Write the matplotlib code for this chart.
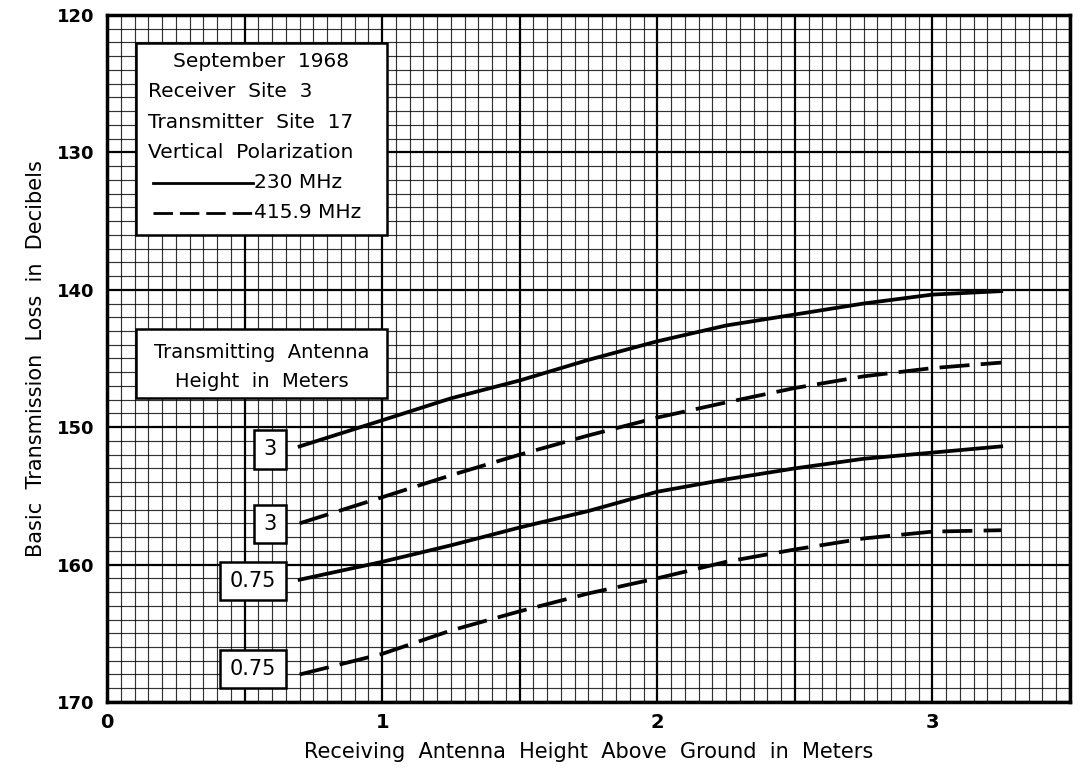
import numpy as np
import matplotlib
matplotlib.use('Agg')
import matplotlib.pyplot as plt
from matplotlib.patches import Rectangle

# Altura da antena receptora (m)
altura_rx = [0.7, 1.0, 1.25, 1.5, 1.75, 2.0, 2.25, 2.5, 2.75, 3.0, 3.25]

# Perda basica de transmissao (dB)
perda_230_3m = [151.4, 149.5, 147.9, 146.6, 145.1, 143.75, 142.6, 141.8, 141.0, 140.35, 140.1]
perda_416_3m = [157.0, 155.1, 153.5, 152.0, 150.6, 149.3, 148.2, 147.15, 146.3, 145.7, 145.3]
perda_230_075m = [161.1, 159.8, 158.6, 157.3, 156.1, 154.7, 153.8, 153.0, 152.3, 151.85, 151.4]
perda_416_075m = [168.0, 166.5, 164.8, 163.4, 162.1, 161.0, 159.8, 158.9, 158.1, 157.6, 157.5]

rotulos_altura_tx = ['3', '3', '0.75', '0.75']
pos_rotulos = [151.6, 157.05, 161.2, 167.6]

legenda_linhas = ['September  1968', 'Receiver  Site  3', 'Transmitter  Site  17', 'Vertical  Polarization']
freqs = ['230 MHz', '415.9 MHz']

x_ticks = [0, 1, 2, 3]
y_ticks = [120, 130, 140, 150, 160, 170]

plt.rcParams['font.family'] = ['DejaVu Sans']

fig = plt.figure(figsize=(10.8, 7.76), dpi=100)
ax = fig.add_axes([0.0991, 0.0954, 0.8916, 0.8853])
ax.set_xlim(0, 3.5)
ax.set_ylim(170, 120)

# Grade de papel milimetrado
for xv in np.arange(0, 3.5001, 0.05):
    grosso = abs(xv / 0.5 - round(xv / 0.5)) < 1e-6
    ax.axvline(xv, color='black', lw=1.6 if grosso else 0.85, alpha=1.0 if grosso else 0.8, zorder=1)
for yv in np.arange(120, 170.001, 1):
    grosso = abs(yv % 10) < 1e-6
    ax.axhline(yv, color='black', lw=1.6 if grosso else 0.85, alpha=1.0 if grosso else 0.8, zorder=1)

for s in ax.spines.values():
    s.set_linewidth(2.5)
    s.set_zorder(5)

# Curvas
ax.plot(altura_rx, perda_230_3m, color='black', lw=2.7, zorder=4)
ax.plot(altura_rx, perda_416_3m, color='black', lw=2.7, dashes=(8, 3), zorder=4)
ax.plot(altura_rx, perda_230_075m, color='black', lw=2.7, zorder=4)
ax.plot(altura_rx, perda_416_075m, color='black', lw=2.7, dashes=(8, 3), zorder=4)

# Rotulos de altura da antena transmissora
for rot, yv in zip(rotulos_altura_tx, pos_rotulos):
    ax.text(0.615, yv, rot, ha='right', va='center', fontsize=15, zorder=6,
            bbox=dict(boxstyle='square,pad=0.45', fc='white', ec='black', lw=1.8))

# Caixa de legenda
ax.add_patch(Rectangle((0.105, 122.04), 0.913, 13.96, fc='white', ec='black', lw=1.8, zorder=6))
ax.text(0.56, 123.42, legenda_linhas[0], ha='center', va='center', fontsize=14.5, zorder=7)
for i, linha in enumerate(legenda_linhas[1:]):
    ax.text(0.15, 125.6 + i * 2.2, linha, ha='left', va='center', fontsize=14.5, zorder=7)
ax.plot([0.167, 0.531], [132.2, 132.2], color='black', lw=2.0, zorder=7)
ax.plot([0.167, 0.531], [134.4, 134.4], color='black', lw=2.0, dashes=(7, 2.5), zorder=7)
ax.text(0.535, 132.2, freqs[0], ha='left', va='center', fontsize=14.5, zorder=7)
ax.text(0.535, 134.4, freqs[1], ha='left', va='center', fontsize=14.5, zorder=7)

# Caixa do titulo dos rotulos
ax.add_patch(Rectangle((0.105, 142.85), 0.913, 5.02, fc='white', ec='black', lw=1.8, zorder=6))
ax.text(0.562, 144.53, 'Transmitting  Antenna', ha='center', va='center', fontsize=14, zorder=7)
ax.text(0.562, 146.64, 'Height  in  Meters', ha='center', va='center', fontsize=14, zorder=7)

ax.set_xticks(x_ticks)
ax.set_yticks(y_ticks)
ax.set_xticklabels([str(v) for v in x_ticks], fontsize=14, fontweight='bold')
ax.set_yticklabels([str(v) for v in y_ticks], fontsize=13, fontweight='bold')
ax.tick_params(axis='x', length=0, pad=8)
ax.tick_params(axis='y', length=0, pad=9)

ax.set_xlabel('Receiving  Antenna  Height  Above  Ground  in  Meters', fontsize=15, labelpad=7)
ax.set_ylabel('Basic  Transmission  Loss  in  Decibels', fontsize=15, labelpad=8)

fig.savefig('out.png', dpi=100)
